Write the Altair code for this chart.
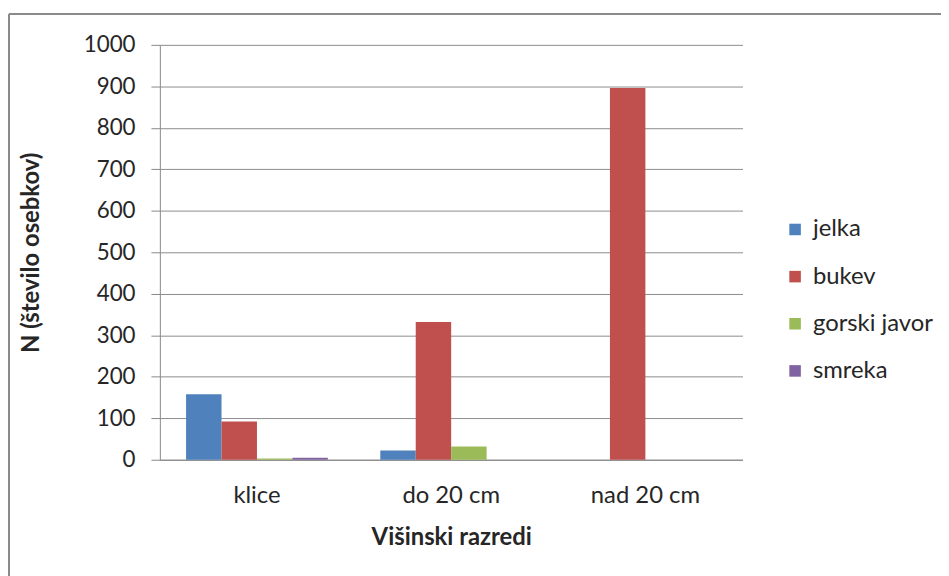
import altair as alt
import pandas as pd

categories = ["klice", "do 20 cm", "nad 20 cm"]
species = ["jelka", "bukev", "gorski javor", "smreka"]
jelka = [158, 22, 0]
bukev = [92, 332, 896]
gorski_javor = [3, 32, 0]
smreka = [5, 0, 0]
colors = ["#4F81BD", "#C0504D", "#9BBB59", "#8064A2"]

rows = []
for sp, vals in zip(species, [jelka, bukev, gorski_javor, smreka]):
    for c, v in zip(categories, vals):
        rows.append({"razred": c, "vrsta": sp, "N": v})
df = pd.DataFrame(rows)

FONT = "Lato"
TXT = "#262626"
common = dict(labelFont=FONT, labelColor=TXT,
              titleFont=FONT, titleFontSize=24, titleColor=TXT, titleFontWeight="bold")

bars = alt.Chart(df).mark_bar().encode(
    x=alt.X("razred:N", sort=categories,
            scale=alt.Scale(paddingInner=0.27, paddingOuter=0.135),
            axis=alt.Axis(title="Višinski razredi", labelAngle=0, ticks=False,
                          labelFontSize=24, labelPadding=24, titlePadding=18,
                          domainColor="#888888", **common)),
    xOffset=alt.XOffset("vrsta:N", sort=species, scale=alt.Scale(paddingInner=0, paddingOuter=0)),
    y=alt.Y("N:Q", scale=alt.Scale(domain=[0, 1000], nice=False),
            axis=alt.Axis(title="N (število osebkov)", values=list(range(0, 1001, 100)),
                          format="d", labelFontSize=22.5,
                          tickSize=9, tickColor="#888888", domainColor="#888888",
                          gridColor="#8c8c8c", gridWidth=1, labelPadding=16,
                          titleX=-129, titleY=209, titleAngle=-90,
                          titleAlign="center", titleBaseline="middle", **common)),
    color=alt.Color("vrsta:N", sort=species,
                    scale=alt.Scale(domain=species, range=colors),
                    legend=alt.Legend(title=None, orient="none", legendX=628, legendY=174,
                                      symbolType="square", symbolSize=135,
                                      symbolStrokeWidth=0, rowPadding=23.5, labelOffset=6,
                                      labelFontSize=24, labelFont=FONT, labelColor=TXT)),
)

one = pd.DataFrame({"a": [0]})
left_line = alt.Chart(one).mark_rule(color="#8a8a8a", strokeWidth=2).encode(
    x=alt.value(-152), y=alt.value(-31), y2=alt.value(600)
)
top_line = alt.Chart(one).mark_rule(color="#8a8a8a", strokeWidth=2).encode(
    x=alt.value(-152), x2=alt.value(900), y=alt.value(-31)
)

chart = alt.layer(left_line, top_line, bars).properties(
    width=587, height=418, autosize="none",
    padding={"left": 153, "top": 35, "right": 200, "bottom": 115},
).configure(background="white").configure_view(stroke=None)

chart.save("out.html", embed_options={"renderer": "svg", "actions": False})
